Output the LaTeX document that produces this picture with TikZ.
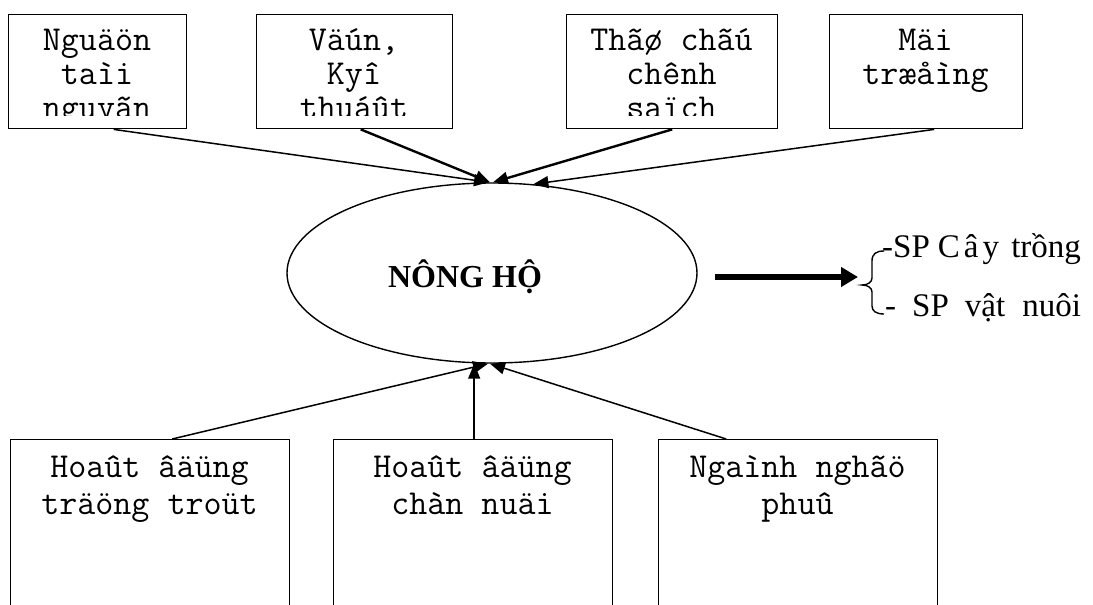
\documentclass[tikz,border=0pt]{standalone}
\usepackage{fontspec}
\setmainfont{Liberation Serif}
\usetikzlibrary{arrows.meta,shapes.geometric}

\begin{document}
\begin{tikzpicture}[x=1pt,y=-1pt,
  box/.style={draw,line width=1.4pt,rectangle,inner sep=0pt,anchor=north west},
  boxtext/.style={anchor=base,inner sep=0pt,font=\ttfamily\fontsize{35}{34}\selectfont},
  lowtext/.style={anchor=base,inner sep=0pt,font=\ttfamily\fontsize{35}{37}\selectfont},
  conn/.style={line width=1.5pt,-{Triangle[length=15pt,width=12pt]}},
  heavyconn/.style={line width=2.4pt,-{Triangle[length=15pt,width=12pt]}},
  prodtext/.style={anchor=base west,inner sep=0pt,font=\fontsize{33}{36}\selectfont}]
\useasboundingbox (0,0) rectangle (1093,605);
\clip (0,0) rectangle (1093,605);

% upper row of factor boxes
\node[box,minimum width=178pt,minimum height=114pt] (b1) at (8,14) {};
\node[box,minimum width=196pt,minimum height=114pt] (b2) at (256,14) {};
\node[box,minimum width=211pt,minimum height=114pt] (b3) at (566,14) {};
\node[box,minimum width=193pt,minimum height=114pt] (b4) at (829,14) {};

\begin{scope}
  \clip (8,14) rectangle (186,115);
  \node[boxtext] (t1) at (97,50) {\begin{tabular}[t]{@{}c@{}}Nguäön\\taìi\\nguyãn\end{tabular}};
\end{scope}
\begin{scope}
  \clip (256,14) rectangle (452,115);
  \node[boxtext] (t2) at (354,50) {\begin{tabular}[t]{@{}c@{}}Väún,\\Kyî\\thuáût\end{tabular}};
\end{scope}
\begin{scope}
  \clip (566,14) rectangle (777,115);
  \node[boxtext] (t3) at (671.5,50) {\begin{tabular}[t]{@{}c@{}}Thãø chãú\\chênh\\saïch\end{tabular}};
\end{scope}
\begin{scope}
  \clip (829,14) rectangle (1022,115);
  \node[boxtext] (t4) at (925.5,50) {\begin{tabular}[t]{@{}c@{}}Mäi\\træåìng\end{tabular}};
\end{scope}

% the household
\node[ellipse,draw,line width=1.4pt,minimum width=410pt,minimum height=180pt,inner sep=0pt] (ell) at (492,273) {};
\node[anchor=base,inner sep=0pt,font=\bfseries\fontsize{32}{36}\selectfont] (nh) at (465,287) {NÔNG HỘ};

% lower row of activity boxes (open at the bottom edge)
\node[box,minimum width=279pt,minimum height=200pt] (b5) at (10,439) {};
\node[box,minimum width=279pt,minimum height=200pt] (b6) at (333,439) {};
\node[box,minimum width=279pt,minimum height=200pt] (b7) at (658,439) {};

\node[lowtext] (t5) at (149.5,477) {\begin{tabular}[t]{@{}c@{}}Hoaût âäüng\\träöng troüt\end{tabular}};
\node[lowtext] (t6) at (472.5,477) {\begin{tabular}[t]{@{}c@{}}Hoaût âäüng\\chàn nuäi\end{tabular}};
\node[lowtext] (t7) at (797.5,477) {\begin{tabular}[t]{@{}c@{}}Ngaình nghãö\\phuû\end{tabular}};

% inputs into the household
\draw[conn] ([xshift=16pt]b1.south) -- ([xshift=-3pt]ell.north);
\draw[heavyconn] ([xshift=6pt]b2.south) -- ([xshift=-2pt]ell.north);
\draw[heavyconn] (b3.south) -- ([xshift=1pt]ell.north);
\draw[conn] ([xshift=8pt]b4.south) -- (ell.65);

\draw[conn] ([xshift=22pt]b5.north) -- ([xshift=-4pt]ell.south);
\draw[conn] ([xshift=1pt]b6.north) -- ([xshift=1pt]b6.north |- ell.south);
\draw[conn] ([xshift=-72pt]b7.north) -- ([xshift=-2pt]ell.south);

% output arrow and products
\coordinate (outs) at (715,277);
\coordinate (oute) at (858,277);
\draw[line width=6pt,-{Triangle[length=17pt,width=19pt]}] (outs) -- (oute);

\draw[line width=1.4pt] (884,251) .. controls (876,251) and (872,254) .. (872,261)
  -- (872,278) .. controls (872,282) and (868,285) .. (862,285)
  .. controls (868,285) and (872,288) .. (872,292)
  -- (872,306) .. controls (872,311) and (876,314) .. (884,314);

\node[prodtext] (p1) at (882,257) {-SP\hspace{8pt}C\hspace{4pt}â\hspace{4pt}y\hspace{4pt} trồng};
\node[prodtext] (p2) at (885,316) {-\hspace{16pt}SP\hspace{16pt}vật\hspace{9pt} nuôi};
\end{tikzpicture}
\end{document}
